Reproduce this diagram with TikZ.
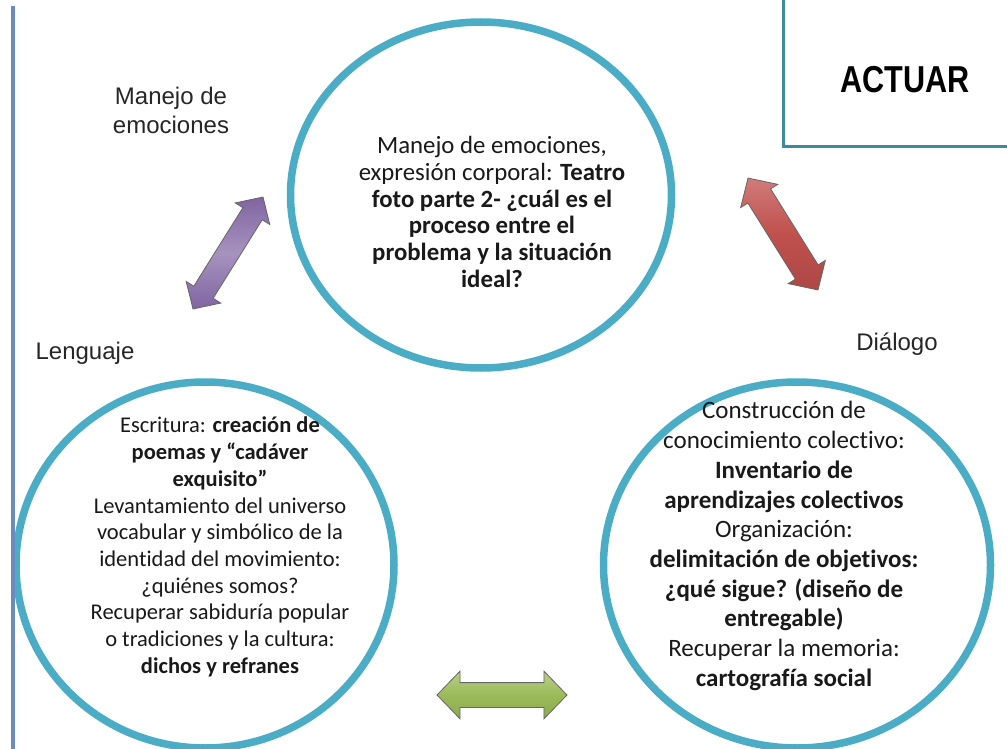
\documentclass[tikz,border=0pt]{standalone}
\usepackage{fontspec}
\setmainfont{Carlito}[Ligatures=NoCommon]
\newfontfamily\labelfont{Liberation Sans}
\usetikzlibrary{shapes.geometric,shapes.arrows,positioning}
\definecolor{ringblue}{HTML}{4BACC6}
\definecolor{barblue}{HTML}{6A8BC2}
\definecolor{arrpurple}{HTML}{8064A2}
\definecolor{arrred}{HTML}{C0504D}
\definecolor{arrgreen}{HTML}{9BBB59}
\begin{document}
\begin{tikzpicture}[x=1pt,y=-1pt,
  bubble/.style={draw=ringblue,line width=7.5pt,ellipse,inner sep=0pt},
  bubtext/.style={align=center,inner sep=0pt,text=black!90},
  sidelabel/.style={font=\labelfont\fontsize{24}{29}\selectfont,align=center,inner sep=0pt,text=black!85},
  dblarrow/.style={double arrow,draw=black!60,line width=0.8pt,inner xsep=0pt,double arrow tip angle=92}]
\useasboundingbox (0,0) rectangle (1007,749);
% circles
\node[bubble,minimum width=381pt,minimum height=346pt] (teatro) at (481,195) {};
\node[bubble,minimum width=378pt,minimum height=366pt] (lenguaje) at (205,565) {};
\node[bubble,minimum width=387pt,minimum height=366pt] (dialogo) at (797,565) {};
\draw[barblue,line width=4pt] (13,6) -- (13,749);
% texts
\node[bubtext,font=\fontsize{24.8}{26.8}\selectfont] (teatrotxt) at (492,212)
  {Manejo de emociones,\\ expresión corporal: \textbf{Teatro}\\ \textbf{foto parte 2- ¿cuál es el}\\
   \textbf{proceso entre el}\\ \textbf{problema y la situación}\\ \textbf{ideal?}};
\node[bubtext,font=\fontsize{22.5}{26.7}\selectfont] (lenguajetxt) at (220,547)
  {Escritura: \textbf{creación de}\\ \textbf{poemas y “cadáver}\\ \textbf{exquisito”}\\
   Levantamiento del universo\\ vocabular y simbólico de la\\ identidad del movimiento:\\
   ¿quiénes somos?\\ Recuperar sabiduría popular\\ o tradiciones y la cultura:\\ \textbf{dichos y refranes}};
\node[bubtext,font=\fontsize{25}{29.7}\selectfont] (dialogotxt) at (784,546)
  {Construcción de\\ conocimiento colectivo:\\ \textbf{Inventario de}\\ \textbf{aprendizajes colectivos}\\
   Organización:\\ \textbf{delimitación de objetivos:}\\ \textbf{¿qué sigue? (diseño de}\\
   \textbf{entregable)}\\ Recuperar la memoria:\\ \textbf{cartografía social}};
% side labels
\node[sidelabel] (emociones) at (171,110) {Manejo de\\ emociones};
\node[sidelabel] (lenguajelbl) at (85,353) {Lenguaje};
\node[sidelabel] (dialogolbl) at (897,344) {Diálogo};
% actuar
\draw[draw=ringblue!80!black,line width=3pt] (783,-5) -- (783,147) -- (1015,147);
\node[font=\labelfont\bfseries\fontsize{30}{30}\selectfont] (actuar) at (905,80) {\scalebox{1.02}[1.25]{ACTUAR}};
% arrows
\node[dblarrow,top color=arrpurple,bottom color=arrpurple,middle color=arrpurple!70!white,
  rotate=58,minimum height=132pt,inner ysep=11pt,double arrow head extend=9pt] (purplearr) at (228,253) {};
\node[dblarrow,top color=arrred!75!white,bottom color=arrred!90!black,middle color=arrred,
  rotate=-58,minimum height=132pt,inner ysep=13pt,double arrow head extend=8.5pt] (redarr) at (783,234) {};
\node[dblarrow,top color=arrgreen!70!white,bottom color=arrgreen!90!black,middle color=arrgreen,
  minimum height=130pt,inner ysep=12pt,double arrow head extend=11.5pt] (greenarr) at (502,695) {};
\end{tikzpicture}
\end{document}
